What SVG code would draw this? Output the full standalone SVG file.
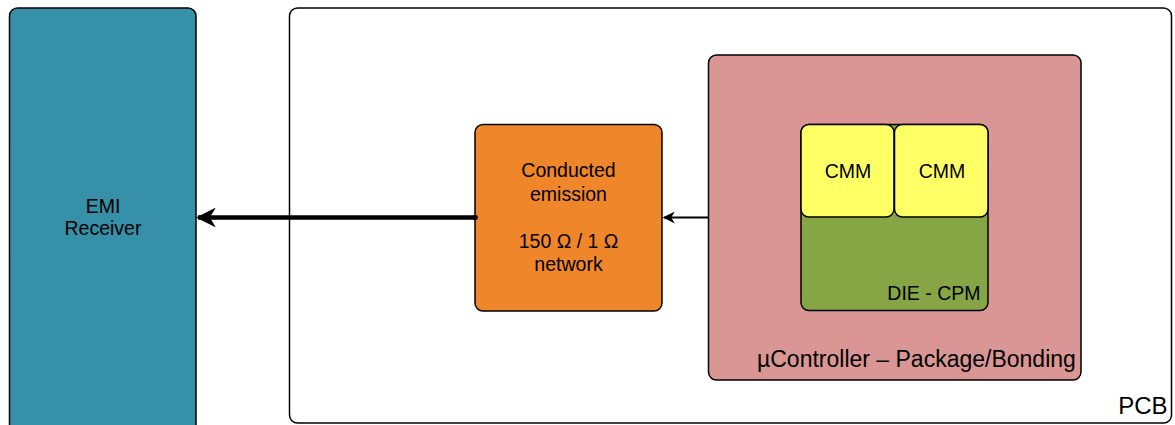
<svg xmlns="http://www.w3.org/2000/svg" width="1175" height="425" viewBox="0 0 1175 425">
  <defs>
    <style>
      .box { stroke: #000; stroke-width: 1.5; }
      .lbl { font-family: "Liberation Sans", Arial, sans-serif; font-size: 19.5px; fill: #000; }
      .big { font-size: 23px; }
      .pcb { font-size: 24px; }
      .mid { text-anchor: middle; }
      .end { text-anchor: end; }
      .wire { fill: none; stroke: #000; }
    </style>
    <marker id="headBig" viewBox="0 0 10 10" refX="9" refY="5" markerWidth="5" markerHeight="4.4" orient="auto" markerUnits="strokeWidth">
      <path d="M0,0 L10,5 L0,10 L3,5 Z" fill="#000"/>
    </marker>
    <marker id="headSmall" viewBox="0 0 10 10" refX="9" refY="5" markerWidth="7" markerHeight="6" orient="auto" markerUnits="strokeWidth">
      <path d="M0,0 L10,5 L0,10 L3,5 Z" fill="#000"/>
    </marker>
  </defs>

  <!-- EMI receiver -->
  <g id="emi-receiver">
    <rect class="box" x="9.5" y="8" width="186.5" height="425" rx="8" fill="#3690A8"/>
    <text class="lbl mid" x="103" y="212.5">EMI</text>
    <text class="lbl mid" x="103" y="235">Receiver</text>
  </g>

  <!-- PCB -->
  <g id="pcb">
    <rect class="box" x="289.5" y="8" width="882" height="415" rx="8" fill="#FFFFFF"/>
    <text class="lbl pcb end" x="1167.5" y="414">PCB</text>
  </g>

  <!-- Conducted emission network -->
  <g id="network">
    <rect class="box" x="475" y="124.5" width="187" height="186.5" rx="8" fill="#F0862A"/>
    <text class="lbl mid" x="568.5" y="177">Conducted</text>
    <text class="lbl mid" x="568.5" y="200.5">emission</text>
    <text class="lbl mid" x="568.5" y="247.5">150 Ω / 1 Ω</text>
    <text class="lbl mid" x="568.5" y="271">network</text>
  </g>

  <!-- Microcontroller package -->
  <g id="package">
    <rect class="box" x="708.5" y="55" width="372.5" height="325" rx="8" fill="#D99694"/>
    <text class="lbl big" x="757" y="367">µController – Package/Bonding</text>
  </g>

  <!-- Die -->
  <g id="die">
    <rect class="box" x="801" y="124.5" width="187" height="186" rx="8" fill="#86A545"/>
    <text class="lbl end" x="980.5" y="299.5">DIE - CPM</text>
  </g>

  <g id="cmm-1">
    <rect class="box" x="801" y="124.5" width="93" height="92.5" rx="8" fill="#FFFF66"/>
    <text class="lbl mid" x="848" y="178">CMM</text>
  </g>

  <g id="cmm-2">
    <rect class="box" x="894.5" y="124.5" width="93.5" height="92.5" rx="8" fill="#FFFF66"/>
    <text class="lbl mid" x="942" y="178">CMM</text>
  </g>

  <!-- Connectors -->
  <g id="connectors">
    <line class="wire" x1="708.5" y1="217.5" x2="664" y2="217.5" stroke-width="2" marker-end="url(#headSmall)"/>
    <circle cx="475" cy="217.5" r="2.8" fill="#000"/>
    <line class="wire" x1="475" y1="217.5" x2="198" y2="217.5" stroke-width="4.5" marker-end="url(#headBig)"/>
  </g>
</svg>
